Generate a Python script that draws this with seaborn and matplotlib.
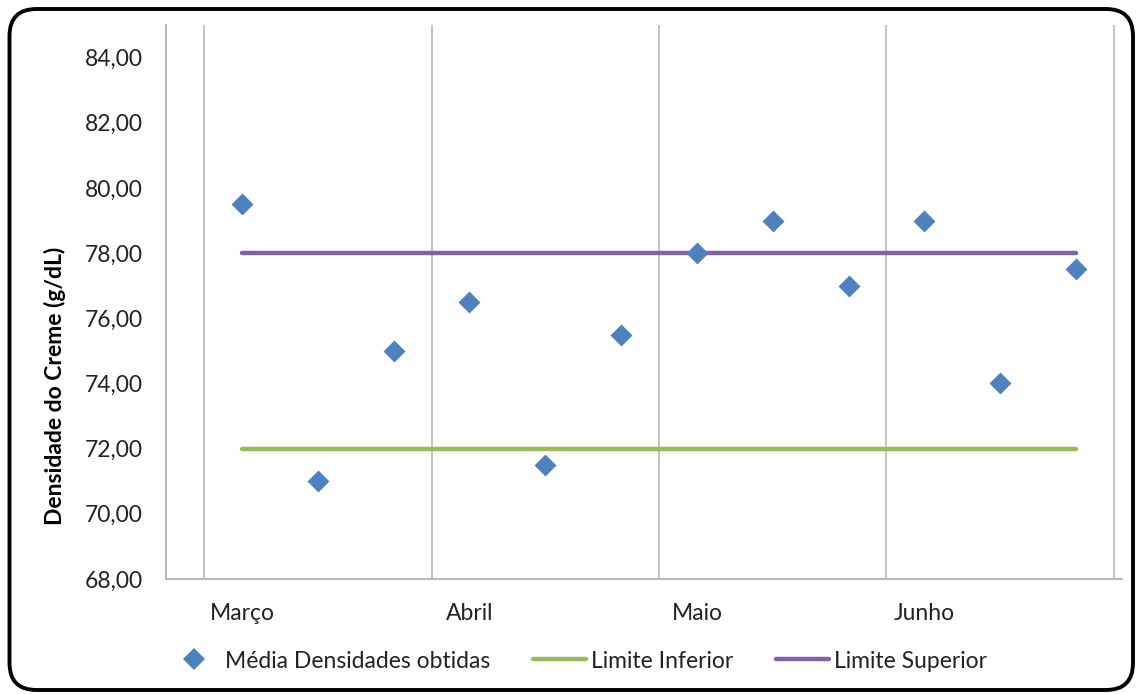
import numpy as np
import pandas as pd
import matplotlib
matplotlib.use("Agg")
import matplotlib.pyplot as plt
from matplotlib.patches import FancyBboxPatch
from matplotlib.lines import Line2D
from matplotlib.ticker import FuncFormatter, FixedLocator
import seaborn as sns

# Dados: médias de densidade do creme por amostra (3 por mês)
meses = ["Março", "Abril", "Maio", "Junho"]
medias = [79.5, 71.0, 75.0, 76.5, 71.5, 75.5, 78.0, 79.0, 77.0, 79.0, 74.0, 77.5]
limite_inferior = 72.0
limite_superior = 78.0
amostras_por_mes = 3

amostra = np.arange(1, len(medias) + 1)
df_medias = pd.DataFrame({"amostra": amostra, "densidade": medias})
df_limites = pd.DataFrame({
    "amostra": np.concatenate([amostra, amostra]),
    "densidade": [limite_inferior] * len(amostra) + [limite_superior] * len(amostra),
    "serie": ["Limite Inferior"] * len(amostra) + ["Limite Superior"] * len(amostra),
})

AZUL = "#4F81BD"
VERDE = "#9BBB59"
ROXO = "#8064A2"
CINZA = "#B3B3B3"

sns.set_style("white")
plt.rcParams["font.family"] = ["Lato", "DejaVu Sans"]

fig = plt.figure(figsize=(11.37, 6.94), dpi=100)
ax = fig.add_axes([166.2 / 1137, 1 - 579 / 694, (1121.5 - 166.2) / 1137, (579 - 25) / 694])

sns.lineplot(data=df_limites, x="amostra", y="densidade", hue="serie",
             palette={"Limite Inferior": VERDE, "Limite Superior": ROXO},
             linewidth=3.2, legend=False, ax=ax, zorder=2)
for ln in ax.lines:
    ln.set_solid_capstyle("round")
sns.scatterplot(data=df_medias, x="amostra", y="densidade", marker="D",
                s=125, color=AZUL, linewidth=0, legend=False, ax=ax, zorder=3)

ax.set_xlim(0, 12.6)
ax.set_ylim(68, 85)
ax.set_yticks(np.arange(68, 85, 2))
ax.yaxis.set_major_formatter(FuncFormatter(lambda v, _: f"{v:.2f}".replace(".", ",")))

inicio_mes = amostra[::amostras_por_mes]
ax.set_xticks(inicio_mes)
ax.set_xticklabels(meses)
# divisões entre meses
divisoes = np.append(inicio_mes - 0.5, amostra[-1] + 0.5)
for d in divisoes:
    ax.axvline(d, color=CINZA, linewidth=1.1, zorder=1)

ax.tick_params(axis="y", length=0, pad=17, labelsize=16.5, labelcolor="#222222")
ax.tick_params(axis="x", length=0, pad=17, labelsize=16.5, labelcolor="#222222")
ax.set_xlabel("")
ax.set_ylabel("")
for lado in ["top", "right"]:
    ax.spines[lado].set_visible(False)
for lado in ["left", "bottom"]:
    ax.spines[lado].set_color(CINZA)
    ax.spines[lado].set_linewidth(1.3)

fig.text(55 / 1137, 1 - 386 / 694, "Densidade do Creme (g/dL)", rotation=90,
         ha="center", va="center", fontsize=16.5, fontweight="bold", color="black")

handles = [
    Line2D([], [], marker="D", linestyle="none", color=AZUL, markersize=11, markeredgewidth=0),
    Line2D([], [], color=VERDE, linewidth=3.2),
    Line2D([], [], color=ROXO, linewidth=3.2),
]
labels = ["Média Densidades obtidas", "Limite Inferior", "Limite Superior"]
fig.legend(handles, labels, loc="center", bbox_to_anchor=(577 / 1137, 1 - 661 / 694),
           ncol=3, frameon=False, fontsize=16.5, handlelength=2.3, handletextpad=0.2,
           columnspacing=1.9, labelcolor="#222222")

# moldura arredondada
moldura = FancyBboxPatch((0.095, 0.04), 11.235, 6.81,
                         boxstyle="round,pad=0,rounding_size=0.27",
                         transform=fig.dpi_scale_trans, fill=False,
                         edgecolor="black", linewidth=2.8, clip_on=False)
fig.patches.append(moldura)

fig.savefig("out.png", dpi=100, facecolor="white")
